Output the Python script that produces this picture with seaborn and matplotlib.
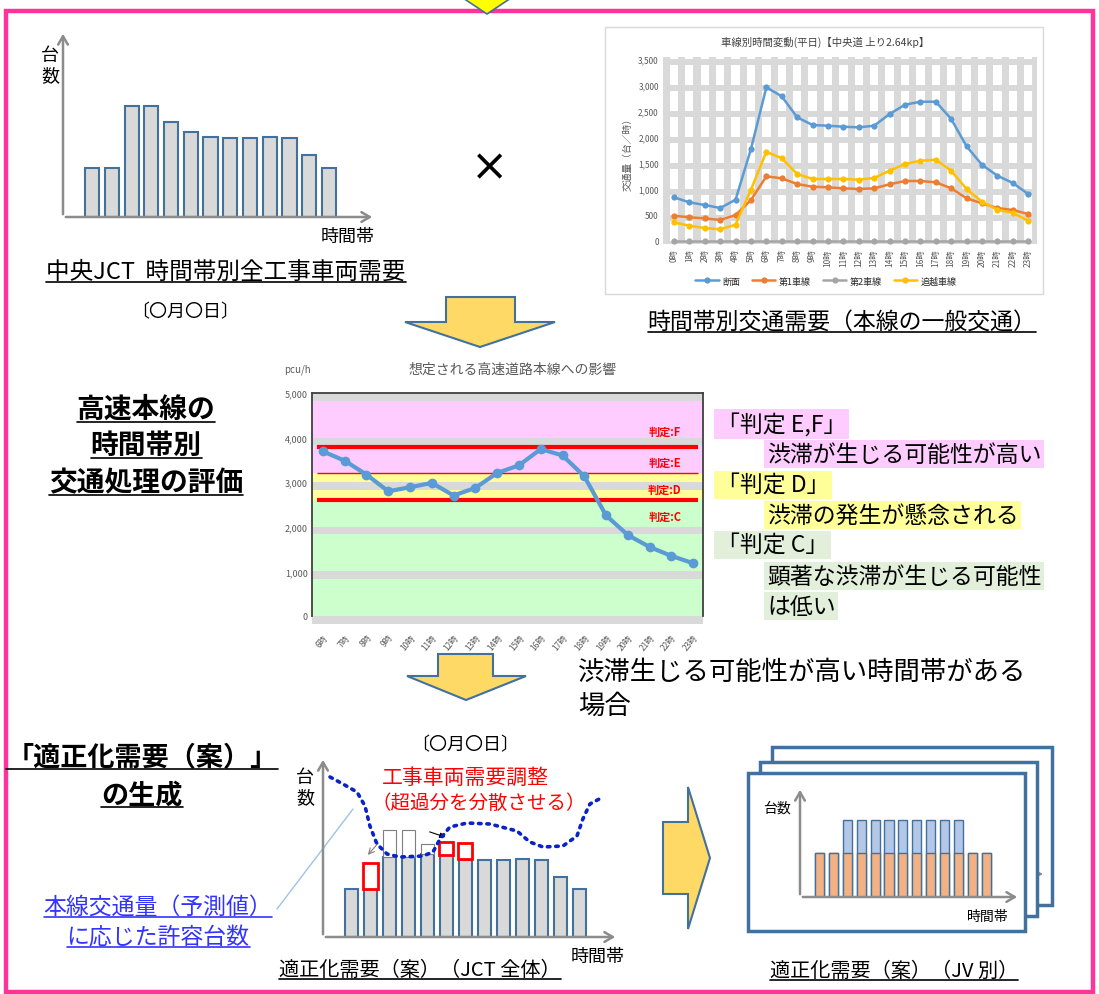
import numpy as np
import pandas as pd
import matplotlib.pyplot as plt
from matplotlib.patches import Rectangle, Polygon
import seaborn as sns

sns.set_style('white')
plt.rcParams['font.family'] = ['Noto Sans CJK JP', 'DejaVu Sans']

W, H = 1099, 995

# ---- data ----
# 中央JCT 時間帯別全工事車両需要（台数, 相対値）
slots = ['1', '2', '3', '4', '5', '6', '7', '8', '9', '10', '11', '12', '13']
jct_demand = [49, 49, 111, 111, 95, 85, 80, 79, 79, 80, 79, 62, 49]

# 車線別時間変動(平日)
hours24 = ['0時', '1時', '2時', '3時', '4時', '5時', '6時', '7時', '8時', '9時', '10時', '11時',
           '12時', '13時', '14時', '15時', '16時', '17時', '18時', '19時', '20時', '21時', '22時', '23時']
lane_total = [835, 738, 687, 629, 788, 1763, 2950, 2777, 2373, 2225, 2212, 2192,
              2180, 2212, 2436, 2615, 2673, 2673, 2340, 1815, 1460, 1250, 1110, 898]
lane_1 = [481, 450, 431, 398, 494, 783, 1238, 1200, 1090, 1038, 1027, 1008,
          994, 1008, 1085, 1148, 1148, 1123, 1008, 815, 719, 629, 590, 513]
lane_2 = [0, 0, 0, 0, 0, 0, 0, 0, 0, 0, 0, 0, 0, 0, 0, 0, 0, 0, 0, 0, 0, 0, 0, 0]
lane_pass = [354, 288, 244, 219, 308, 980, 1712, 1585, 1283, 1187, 1187, 1187,
             1174, 1206, 1346, 1475, 1538, 1558, 1346, 994, 750, 596, 533, 385]
lane_names = ['断面', '第1車線', '第2車線', '追越車線']
lane_colors = ['#5B9BD5', '#ED7D31', '#A5A5A5', '#FFC000']

# 想定される高速道路本線への影響 (pcu/h)
eval_hours = ['6時', '7時', '8時', '9時', '10時', '11時', '12時', '13時', '14時',
              '15時', '16時', '17時', '18時', '19時', '20時', '21時', '22時', '23時']
mainline_pcu = [3690, 3482, 3170, 2797, 2886, 2984, 2701, 2872, 3207,
                3377, 3743, 3600, 3132, 2254, 1815, 1547, 1346, 1183]
judge_lines = [3800, 3200, 2600]
judge_labels = ['判定:F', '判定:E', '判定:D', '判定:C']
judge_label_y = [4130, 3440, 2840, 2230]

# 適正化需要（案）（JCT全体）
adjusted = [48, 48, 80, 80, 83, 83, 77, 77, 77, 78, 77, 60, 48]
excess_idx = [2, 3, 4]
excess_top = [107, 107, 93]
moved_idx = [1, 5, 6]
moved_bottom = [48, 82, 78]
moved_top = [74, 95, 94]
curve_x = [-1.13, -0.45, 0.29, 0.71, 0.97, 1.34, 1.87, 2.55, 3.76, 4.29, 4.66, 5.18,
           6.08, 7.29, 8.71, 9.39, 10.08, 11.13, 11.87, 12.18, 12.55, 13.24]
curve_y = [160, 153, 145, 131, 111, 93, 83, 80, 81, 85, 98, 110,
           114, 113, 106, 95, 90, 91, 101, 118, 133, 140]

# 適正化需要（案）（JV別）
jv_base = [44, 44, 44, 44, 44, 44, 44, 44, 44, 44, 44, 44, 44]
jv_total = [44, 44, 77, 77, 77, 77, 77, 77, 77, 77, 77, 44, 44]

# ---- figure ----
fig = plt.figure(figsize=(W / 100, H / 100), dpi=100)
bg = fig.add_axes([0, 0, 1, 1])
bg.set_xlim(0, W)
bg.set_ylim(H, 0)
bg.axis('off')


def px_axes(x0, y0, x1, y1):
    ax = fig.add_axes([x0 / W, 1 - y1 / H, (x1 - x0) / W, (y1 - y0) / H])
    ax.patch.set_alpha(0)
    return ax


underlined = []


def label(x, y, s, size, under=False, color='black', ha='center', **kw):
    t = bg.text(x, y, s, fontsize=size, ha=ha, va='center', color=color, **kw)
    if under:
        underlined.append((t, color))
    return t


def axis_arrows(ax):
    for sp in ax.spines.values():
        sp.set_visible(False)
    ax.set_xticks([])
    ax.set_yticks([])
    ax.set(xlabel='', ylabel='')
    ap = dict(arrowstyle='->,head_length=0.6,head_width=0.35', color='#8C8C8C', lw=1.8)
    ax.annotate('', xy=(0, 1), xytext=(0, 0), xycoords='axes fraction', arrowprops=ap)
    ax.annotate('', xy=(1, 0), xytext=(0, 0), xycoords='axes fraction', arrowprops=ap)


# outer frame and top arrow
bg.add_patch(Rectangle((6, 12), 1087, 981, fill=False, edgecolor='#FF3399', lw=3.2))
bg.add_patch(Polygon([(457, -5), (517, -5), (487, 15)], facecolor='#FFFF00',
                     edgecolor='#41719C', lw=1.2, zorder=5))

# ---- top-left chart ----
ax1 = px_axes(63, 32, 375, 218)
sns.barplot(x=slots, y=jct_demand, color='#D9D9D9', edgecolor='#41719C', linewidth=1.5,
            width=0.71, saturation=1, errorbar=None, ax=ax1)
ax1.set_xlim(-1.47, 14.33)
ax1.set_ylim(0, 186)
axis_arrows(ax1)
label(50, 66, '台\n数', 13, linespacing=1.15)
label(348, 237, '時間帯', 13)
label(226, 272, '中央JCT  時間帯別全工事車両需要', 17, under=True)
label(185, 312, '〔〇月〇日〕', 13)
label(490, 168, '×', 32, family=['DejaVu Sans'])

# ---- top-right chart (Excel style) ----
bg.add_patch(Rectangle((605, 28), 438, 267, fill=False, edgecolor='#D9D9D9', lw=1))
label(825, 42, '車線別時間変動(平日)【中央道 上り2.64kp】', 7.5, color='#404040')
ax2 = px_axes(663, 58, 1037, 245)
ax2.set_facecolor('#D9D9D9')
ax2.patch.set_alpha(1)
for i in range(len(hours24)):
    ax2.axvspan(i - 0.27, i + 0.27, color='white', lw=0, zorder=0)
for v in range(0, 3501, 500):
    ax2.axhspan(v - 115, v, color='#D9D9D9', lw=0, zorder=0.5)
pos = list(range(len(hours24)))
df_lanes = pd.DataFrame({
    'pos': pos * 4,
    'vol': lane_total + lane_1 + lane_2 + lane_pass,
    'lane': [n for n in lane_names for _ in pos],
})
sns.lineplot(data=df_lanes, x='pos', y='vol', hue='lane', hue_order=lane_names,
             palette=dict(zip(lane_names, lane_colors)), marker='o', markersize=4.5,
             markeredgewidth=0, linewidth=1.8, ax=ax2, zorder=3)
ax2.set_xlim(-0.71, 23.57)
ax2.set_ylim(-63, 3533)
ax2.set_yticks(range(0, 3501, 500))
ax2.set_yticklabels([f'{v:,}' for v in range(0, 3501, 500)])
ax2.set_xticks(pos)
ax2.set_xticklabels(hours24, rotation=90)
ax2.tick_params(length=0, labelsize=6, labelcolor='#595959', pad=3)
for sp in ax2.spines.values():
    sp.set_visible(False)
ax2.set_xlabel('')
ax2.set_ylabel('交通量（台／時）', fontsize=7, color='#595959', labelpad=4)
handles, labels = ax2.get_legend_handles_labels()
ax2.legend(handles, labels, loc='center', bbox_to_anchor=(826 / W, 1 - 282 / H),
           bbox_transform=fig.transFigure, ncol=4, frameon=False, fontsize=6.5,
           handlelength=2.6, columnspacing=1.3, handletextpad=0.4)
label(842, 322, '時間帯別交通需要（本線の一般交通）', 16.5, under=True)

# arrow 1
bg.add_patch(Polygon([(446, 298), (515, 298), (515, 323), (555, 323), (480, 348),
                      (405, 323), (446, 323)], facecolor='#FFD966', edgecolor='#41719C', lw=1.5))

# ---- middle chart ----
label(513, 370, '想定される高速道路本線への影響', 10, color='#595959')
label(297, 370, 'pcu/h', 7, color='#595959')
ax3 = px_axes(312, 394, 703, 625)
ax3.patch.set_alpha(1)
ax3.set_facecolor('white')
ax3.axhspan(0, judge_lines[2], color='#CCFFCC', lw=0, zorder=0.3)
ax3.axhspan(judge_lines[2], judge_lines[1], color='#FFFF99', lw=0, zorder=0.3)
ax3.axhspan(judge_lines[1], 4820, color='#FFCCFF', lw=0, zorder=0.3)
for v in range(0, 5001, 1000):
    ax3.axhspan(v - 170, v, color='#D9D9D9', lw=0, zorder=0.6)
ax3.hlines(judge_lines, -0.25, 17.2, colors='#FF0000', linewidths=[3, 1, 3], zorder=2)
ev_pos = list(range(len(eval_hours)))
sns.lineplot(x=ev_pos, y=mainline_pcu, color='#5B9BD5', linewidth=3, marker='o',
             markersize=7, markeredgewidth=0, ax=ax3, zorder=3)
for s, yv in zip(judge_labels, judge_label_y):
    ax3.text(15.7, yv, s, color='#FF0000', fontsize=8, fontweight='bold', ha='center', va='center')
ax3.set_xlim(-0.5, 17.45)
ax3.set_ylim(-180, 5000)
ax3.set_yticks(range(0, 5001, 1000))
ax3.set_yticklabels([f'{v:,}' for v in range(0, 5001, 1000)])
ax3.set_xticks(ev_pos)
ax3.set_xticklabels(eval_hours, rotation=50, ha='right', rotation_mode='anchor')
ax3.tick_params(length=0, labelsize=6.5, labelcolor='#595959', pad=3)
ax3.tick_params(axis='x', labelsize=6, pad=6)
ax3.spines['bottom'].set_visible(False)
for k in ['left', 'right', 'top']:
    ax3.spines[k].set_color('#404040')
    ax3.spines[k].set_linewidth(1.3)
ax3.spines['left'].set_bounds(0, 5000)
ax3.spines['right'].set_bounds(0, 5000)

label(146, 410, '高速本線の', 20, under=True, fontweight='bold')
label(146, 446, '時間帯別', 20, under=True, fontweight='bold')
label(146, 483, '交通処理の評価', 20, under=True, fontweight='bold')

hl = dict(edgecolor='none', pad=2)
label(717, 425, '「判定 E,F」', 16.5, ha='left', bbox=dict(facecolor='#FFCCFF', **hl))
label(767, 455, '渋滞が生じる可能性が高い', 16.5, ha='left', bbox=dict(facecolor='#FFCCFF', **hl))
label(717, 486, '「判定 D」', 16.5, ha='left', bbox=dict(facecolor='#FFFF99', **hl))
label(767, 516, '渋滞の発生が懸念される', 16.5, ha='left', bbox=dict(facecolor='#FFFF99', **hl))
label(717, 546, '「判定 C」', 16.5, ha='left', bbox=dict(facecolor='#E2EFDA', **hl))
label(767, 577, '顕著な渋滞が生じる可能性', 16.5, ha='left', bbox=dict(facecolor='#E2EFDA', **hl))
label(767, 607, 'は低い', 16.5, ha='left', bbox=dict(facecolor='#E2EFDA', **hl))

# arrow 2
bg.add_patch(Polygon([(438, 655), (493, 655), (493, 677), (526, 677), (466, 701),
                      (407, 677), (438, 677)], facecolor='#FFD966', edgecolor='#41719C', lw=1.5))
label(578, 672, '渋滞生じる可能性が高い時間帯がある', 19, ha='left')
label(578, 706, '場合', 19, ha='left')

# ---- bottom-left texts ----
label(142, 757, '「適正化需要（案）」', 19.5, under=True, fontweight='bold')
label(142, 795, 'の生成', 19.5, under=True, fontweight='bold')
label(158, 907, '本線交通量（予測値）', 16.5, under=True, color='#3333FF')
label(158, 937, 'に応じた許容台数', 16.5, under=True, color='#3333FF')
bg.plot([277, 353], [910, 810], color='#9DC3E6', lw=1)

# ---- bottom-middle chart ----
label(465, 745, '〔〇月〇日〕', 13)
ax4 = px_axes(323, 758, 618, 938)
sns.barplot(x=slots, y=adjusted, color='#D9D9D9', edgecolor='#41719C', linewidth=1.5,
            width=0.68, saturation=1, errorbar=None, ax=ax4)
ax4.bar(excess_idx, np.array(excess_top) - np.array([adjusted[i] for i in excess_idx]),
        bottom=[adjusted[i] for i in excess_idx], width=0.68, facecolor='white',
        edgecolor='#7F7F7F', linewidth=0.8, zorder=1)
ax4.bar(moved_idx, np.array(moved_top) - np.array(moved_bottom), bottom=moved_bottom,
        width=0.74, facecolor='white', edgecolor='#FF0000', linewidth=2, zorder=4)
sns.lineplot(x=curve_x, y=curve_y, sort=False, color='#0A22C8', linewidth=2.6,
             linestyle=(0, (0.7, 1.6)), dash_capstyle='round', ax=ax4, zorder=5)
ax4.set_xlim(-1.5, 14.03)
ax4.set_ylim(0, 180)
axis_arrows(ax4)
ax4.annotate('', xy=(366, 858), xytext=(380, 842), xycoords=bg.transData,
             arrowprops=dict(arrowstyle='->', color='#7F7F7F', lw=0.8))
ax4.annotate('', xy=(448, 839), xytext=(427, 832), xycoords=bg.transData,
             arrowprops=dict(arrowstyle='-|>', color='black', lw=0.8, mutation_scale=8))
label(305, 788, '台\n数', 13, linespacing=1.15)
label(598, 957, '時間帯', 13)
label(465, 778, '工事車両需要調整', 15, color='#FF0000')
label(479, 803, '（超過分を分散させる）', 14, color='#FF0000')
label(420, 970, '適正化需要（案）（JCT 全体）', 14.5, under=True)

# arrow 3
bg.add_patch(Polygon([(663, 823), (688, 823), (688, 788), (710, 859), (688, 930),
                      (688, 895), (663, 895)], facecolor='#FFD966', edgecolor='#41719C', lw=1.5))

# ---- bottom-right frames and chart ----
ap_small = dict(arrowstyle='->', color='#8C8C8C', lw=1.5)
bg.add_patch(Rectangle((772, 748), 280, 158, facecolor='white', edgecolor='#41719C',
                       lw=2.5, zorder=1.0))
bg.annotate('', xy=(1046, 875), xytext=(1000, 875), arrowprops=ap_small, zorder=1.1)
bg.add_patch(Rectangle((760, 763), 277, 154, facecolor='white', edgecolor='#41719C',
                       lw=2.5, zorder=1.2))
bg.annotate('', xy=(1031, 887), xytext=(990, 887), arrowprops=ap_small, zorder=1.3)
bg.add_patch(Rectangle((748, 774), 277, 158, facecolor='white', edgecolor='#41719C',
                       lw=2.5, zorder=1.4))
ax5 = px_axes(800, 788, 1020, 898)
sns.barplot(x=slots, y=jv_total, color='#B4C7E7', edgecolor='#41719C', linewidth=1,
            width=0.65, saturation=1, errorbar=None, ax=ax5)
sns.barplot(x=slots, y=jv_base, color='#F4B183', edgecolor='#41719C', linewidth=1,
            width=0.65, saturation=1, errorbar=None, ax=ax5)
ax5.set_xlim(-1.40, 14.42)
ax5.set_ylim(0, 110)
axis_arrows(ax5)
label(777, 809, '台数', 10)
label(988, 917, '時間帯', 10)
label(894, 971, '適正化需要（案）（JV 別）', 14.5, under=True)

# underlines
fig.canvas.draw()
inv = bg.transData.inverted()
for t, c in underlined:
    bb = t.get_window_extent()
    (x0, yb), (x1, _) = inv.transform([(bb.x0, bb.y0), (bb.x1, bb.y0)])
    bg.plot([x0, x1], [yb - 1, yb - 1], color=c, lw=1.2)

fig.savefig('out.png', dpi=100)
